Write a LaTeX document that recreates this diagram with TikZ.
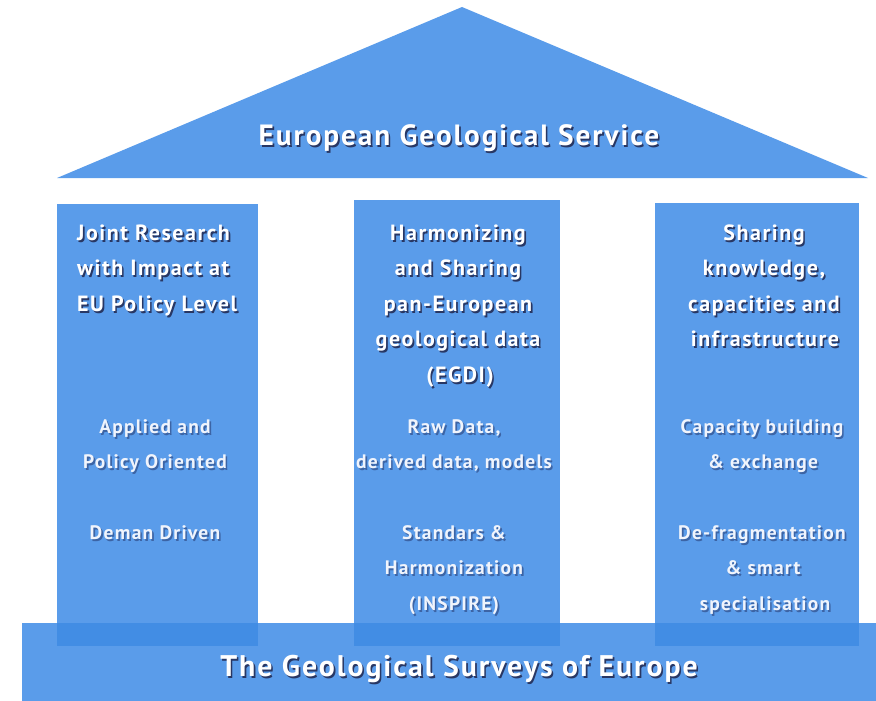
\documentclass[tikz,border=0pt]{standalone}
\usepackage{fontspec}
\setmainfont{PT Sans}
\newfontfamily\bigfont[LetterSpace=6.5]{PT Sans}
\newfontfamily\ttlfont[LetterSpace=7]{PT Sans}
\newfontfamily\subfont[LetterSpace=6.5]{PT Sans}
\definecolor{blu}{RGB}{90,156,234}
\definecolor{bludark}{RGB}{66,141,228}
\definecolor{shad}{RGB}{40,55,100}
\definecolor{shadlt}{RGB}{60,100,165}
\definecolor{subtxt}{RGB}{240,244,252}
\newcommand\shtxt[2]{\makebox[0pt][l]{\hspace{1.6pt}\raisebox{-2.2pt}{\textcolor{#1}{#2}}}#2}
\tikzset{
  big/.style={text=white, inner sep=0pt, anchor=base, font=\bigfont\fontsize{29.3}{32}\bfseries\selectfont},
  ttl/.style={text=white, inner sep=0pt, anchor=base, font=\ttlfont\fontsize{22}{24}\bfseries\selectfont},
  sub/.style={text=subtxt, inner sep=0pt, anchor=base, font=\subfont\fontsize{19.5}{22}\bfseries\selectfont},
}
\begin{document}
\begin{tikzpicture}[x=1pt,y=-1pt]
\useasboundingbox (0,0) rectangle (876,701);
% roof
\fill[blu] (57,178) -- (462,7) -- (868,178) -- cycle;
% base
\fill[blu] (22,623) rectangle (876,701);
% pillars
\fill[blu] (57,204) rectangle (258,646);
\fill[blu] (354,200) rectangle (560,646);
\fill[blu] (655,203) rectangle (859,646);
\fill[bludark] (57,623) rectangle (258,646);
\fill[bludark] (354,623) rectangle (560,646);
\fill[bludark] (655,623) rectangle (859,646);
% roof and base titles
\node[big] (roofT) at (459,145) {\shtxt{shad}{European Geological Service}};
\node[big,font=\bigfont\fontsize{29.8}{32}\bfseries\selectfont] (baseT) at (459,676) {\shtxt{shad}{The Geological Surveys of Europe}};
% left pillar
\node[ttl,anchor=base west] (l1) at (77,240) {\shtxt{shad}{Joint Research}};
\node[ttl,anchor=base west] (l2) at (77,275.5) {\shtxt{shad}{with Impact at}};
\node[ttl,anchor=base west] (l3) at (77,311) {\shtxt{shad}{EU Policy Level}};
\node[sub] (ls1) at (155,433) {\shtxt{shadlt}{Applied and}};
\node[sub] (ls2) at (155,468.5) {\shtxt{shadlt}{Policy Oriented}};
\node[sub] (ls3) at (155,539) {\shtxt{shadlt}{Deman Driven}};
% middle pillar
\node[ttl] (m1) at (458,240) {\shtxt{shad}{Harmonizing}};
\node[ttl] (m2) at (458,275.5) {\shtxt{shad}{and Sharing}};
\node[ttl] (m3) at (458,311) {\shtxt{shad}{pan-European}};
\node[ttl] (m4) at (458,346.5) {\shtxt{shad}{geological data}};
\node[ttl] (m5) at (460,382) {\shtxt{shad}{(EGDI)}};
\node[sub] (ms1) at (454,433) {\shtxt{shadlt}{Raw Data,}};
\node[sub] (ms2) at (454,468.5) {\shtxt{shadlt}{derived data, models}};
\node[sub] (ms3) at (454,539) {\shtxt{shadlt}{Standars \&}};
\node[sub] (ms4) at (454,574.5) {\shtxt{shadlt}{Harmonization}};
\node[sub] (ms5) at (454,610) {\shtxt{shadlt}{(INSPIRE)}};
% right pillar
\node[ttl] (r1) at (764,240) {\shtxt{shad}{Sharing}};
\node[ttl] (r2) at (764,275.5) {\shtxt{shad}{knowledge,}};
\node[ttl] (r3) at (764,311) {\shtxt{shad}{capacities and}};
\node[ttl] (r4) at (765,346.5) {\shtxt{shad}{infrastructure}};
\node[sub] (rs1) at (762,433) {\shtxt{shadlt}{Capacity building}};
\node[sub] (rs2) at (763,468.5) {\shtxt{shadlt}{\& exchange}};
\node[sub] (rs3) at (762,539) {\shtxt{shadlt}{De-fragmentation}};
\node[sub] (rs4) at (763,574.5) {\shtxt{shadlt}{\& smart}};
\node[sub] (rs5) at (765,610) {\shtxt{shadlt}{specialisation}};
\end{tikzpicture}
\end{document}
